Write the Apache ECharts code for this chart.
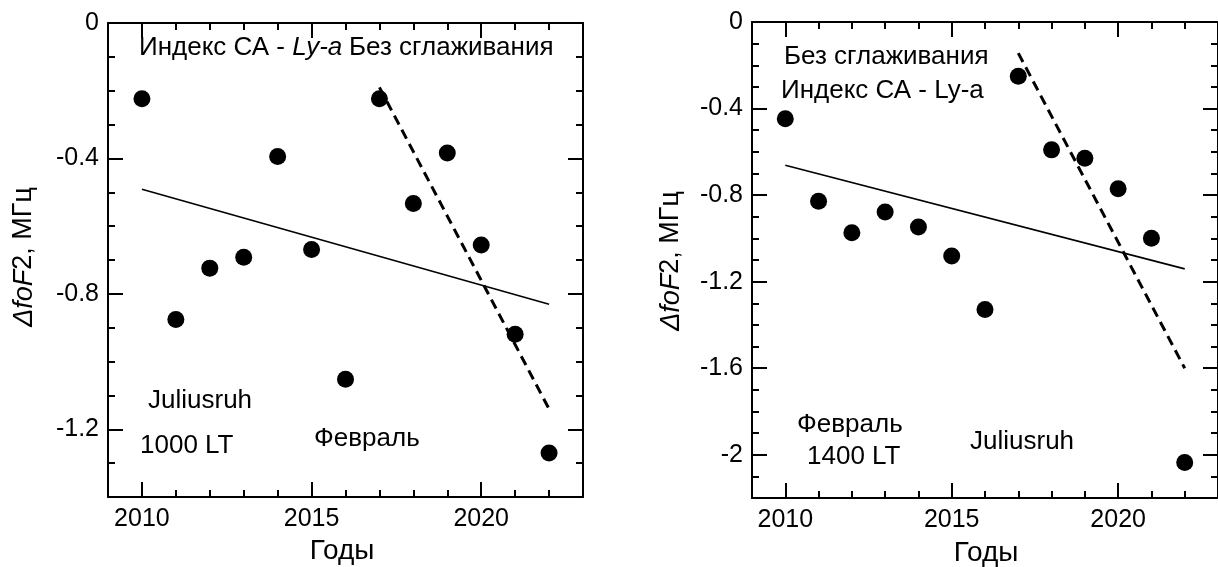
<!DOCTYPE html>
<html>
<head>
<meta charset="utf-8">
<script src="https://cdn.jsdelivr.net/npm/echarts@6/dist/echarts.min.js"></script>
<style>
  html, body { margin: 0; padding: 0; background: #fff; }
  #chart { width: 1218px; height: 567px; }
</style>
</head>
<body>
<div id="chart"></div>
<script>
// ---------- data ----------
const years = [2010, 2011, 2012, 2013, 2014, 2015, 2016, 2017, 2018, 2019, 2020, 2021, 2022];
// Left panel: Juliusruh, February, 1000 LT
const dfoF2_1000 = [-0.224, -0.876, -0.724, -0.692, -0.394, -0.669, -1.052, -0.224, -0.533, -0.384, -0.656, -0.919, -1.270];
// Right panel: Juliusruh, February, 1400 LT
const dfoF2_1400 = [-0.447, -0.828, -0.974, -0.878, -0.947, -1.081, -1.329, -0.251, -0.591, -0.630, -0.771, -0.999, -2.036];
// Linear trends (full period, solid) and since 2017 (dashed)
const trendYearsAll = [2010, 2022];
const trendAll_1000 = [-0.491, -0.831];
const trendAll_1400 = [-0.662, -1.141];
const trendYearsLate = [2017, 2022];
const trendLate_1000 = [-0.190, -1.140];
const trendLate_1400 = [-0.144, -1.600];
// Axis ticks / labels
const xMajor = [2010, 2015, 2020];
const xMinor = [2009, 2010, 2011, 2012, 2013, 2014, 2015, 2016, 2017, 2018, 2019, 2020, 2021, 2022, 2023];
const yMajorLeft = [0, -0.4, -0.8, -1.2];
const yMinorLeft = [0, -0.1, -0.2, -0.3, -0.4, -0.5, -0.6, -0.7, -0.8, -0.9, -1.0, -1.1, -1.2, -1.3, -1.4];
const yMajorRight = [0, -0.4, -0.8, -1.2, -1.6, -2];
const yMinorRight = [0, -0.1, -0.2, -0.3, -0.4, -0.5, -0.6, -0.7, -0.8, -0.9, -1.0, -1.1, -1.2, -1.3, -1.4, -1.5, -1.6, -1.7, -1.8, -1.9, -2.0, -2.1, -2.2];

// ---------- helpers ----------
const FONT = '"Liberation Sans", Arial, sans-serif';
const FS = 25;     // tick labels
const FA = 26;     // annotations
const FT = 28;     // axis titles
const LW = 2;

function xAxes(gridIndex, minorVals, majorVals) {
  const base = { type: 'value', gridIndex, min: 2009, max: 2023, splitLine: { show: false } };
  const line = { show: true, onZero: false, lineStyle: { color: '#000', width: LW } };
  const noline = { show: false, onZero: false };
  return [
    Object.assign({}, base, { position: 'bottom', axisLine: line,
      axisTick: { show: true, inside: true, length: 15, customValues: majorVals, lineStyle: { color: '#000', width: LW } },
      axisLabel: { show: true, customValues: majorVals, color: '#000', fontSize: FS, fontFamily: FONT, margin: 10,
        formatter: v => String(v) } }),
    Object.assign({}, base, { position: 'bottom', axisLine: noline,
      axisTick: { show: true, inside: true, length: 7, customValues: minorVals, lineStyle: { color: '#000', width: LW } },
      axisLabel: { show: false } }),
    Object.assign({}, base, { position: 'top', axisLine: line,
      axisTick: { show: true, inside: true, length: 15, customValues: majorVals, lineStyle: { color: '#000', width: LW } },
      axisLabel: { show: false } }),
    Object.assign({}, base, { position: 'top', axisLine: noline,
      axisTick: { show: true, inside: true, length: 7, customValues: minorVals, lineStyle: { color: '#000', width: LW } },
      axisLabel: { show: false } })
  ];
}
function yAxes(gridIndex, minV, minorVals, majorVals) {
  const base = { type: 'value', gridIndex, min: minV, max: 0, splitLine: { show: false } };
  const line = { show: true, onZero: false, lineStyle: { color: '#000', width: LW } };
  const noline = { show: false, onZero: false };
  return [
    Object.assign({}, base, { position: 'left', axisLine: line,
      axisTick: { show: true, inside: true, length: 15, customValues: majorVals, lineStyle: { color: '#000', width: LW } },
      axisLabel: { show: true, customValues: majorVals, color: '#000', fontSize: FS, fontFamily: FONT, margin: 9,
        formatter: v => (Math.abs(v) < 1e-9 ? '0' : String(Math.round(v * 10) / 10)) } }),
    Object.assign({}, base, { position: 'left', axisLine: noline,
      axisTick: { show: true, inside: true, length: 7, customValues: minorVals, lineStyle: { color: '#000', width: LW } },
      axisLabel: { show: false } }),
    Object.assign({}, base, { position: 'right', axisLine: line,
      axisTick: { show: true, inside: true, length: 15, customValues: majorVals, lineStyle: { color: '#000', width: LW } },
      axisLabel: { show: false } }),
    Object.assign({}, base, { position: 'right', axisLine: noline,
      axisTick: { show: true, inside: true, length: 7, customValues: minorVals, lineStyle: { color: '#000', width: LW } },
      axisLabel: { show: false } })
  ];
}
const zip = (xs, ys) => xs.map((x, i) => [x, ys[i]]);

function panelSeries(axisOffset, vals, allVals, lateVals) {
  return [
    { type: 'line', xAxisIndex: axisOffset, yAxisIndex: axisOffset, data: zip(trendYearsAll, allVals),
      symbol: 'none', lineStyle: { color: '#000', width: 1.6 }, silent: true, z: 2 },
    { type: 'line', xAxisIndex: axisOffset, yAxisIndex: axisOffset, data: zip(trendYearsLate, lateVals),
      symbol: 'none', lineStyle: { color: '#000', width: 3, type: [10, 6] }, silent: true, z: 2 },
    { type: 'scatter', xAxisIndex: axisOffset, yAxisIndex: axisOffset, data: zip(years, vals),
      symbol: 'circle', symbolSize: 17, itemStyle: { color: '#000', opacity: 1 }, z: 3 }
  ];
}

const txt = (x, y, text, extra, fs) => ({
  type: 'text', x, y, silent: true,
  style: Object.assign({ text, fill: '#000', font: (fs || FA) + 'px ' + FONT, align: 'left', verticalAlign: 'middle' }, extra || {})
});
const rich = {
  n: { fontSize: FA, fontFamily: FONT, color: '#000' },
  i: { fontSize: FA, fontFamily: FONT, fontStyle: 'italic', color: '#000' }
};
const richT = {
  n: { fontSize: 27, fontFamily: FONT, color: '#000' },
  i: { fontSize: 27, fontFamily: FONT, fontStyle: 'italic', color: '#000' }
};

const chart = echarts.init(document.getElementById('chart'), null, { renderer: 'canvas' });
chart.setOption({
  backgroundColor: '#fff',
  animation: false,
  grid: [
    { left: 108, top: 23, width: 475, height: 474 },
    { left: 752, top: 22, width: 473, height: 476 }
  ],
  xAxis: [].concat(xAxes(0, xMinor, xMajor), xAxes(1, xMinor, xMajor)),
  yAxis: [].concat(yAxes(0, -1.4, yMinorLeft, yMajorLeft), yAxes(1, -2.2, yMinorRight, yMajorRight)),
  series: [].concat(
    panelSeries(0, dfoF2_1000, trendAll_1000, trendLate_1000),
    panelSeries(4, dfoF2_1400, trendAll_1400, trendLate_1400)
  ),
  graphic: [
    // left panel annotations
    { type: 'text', x: 139, y: 48, silent: true,
      style: { text: '{n|Индекс СА - }{i|Ly-a}', rich, align: 'left', verticalAlign: 'middle' } },
    txt(349, 48, 'Без сглаживания'),
    txt(148, 401, 'Juliusruh'),
    txt(140, 446, '1000 LT'),
    txt(314, 439, 'Февраль'),
    // right panel annotations
    txt(784, 57, 'Без сглаживания'),
    txt(781, 91, 'Индекс СА - Ly-a'),
    txt(797, 425, 'Февраль'),
    txt(807, 457, '1400 LT'),
    txt(970, 442, 'Juliusruh'),
    // axis titles
    txt(342, 551, 'Годы', { align: 'center' }, FT),
    txt(986, 553, 'Годы', { align: 'center' }, FT),
    { type: 'text', x: 24, y: 257, rotation: Math.PI / 2, silent: true,
      style: { text: '{i|ΔfoF}{n|2, МГц}', rich: richT, align: 'center', verticalAlign: 'middle' } },
    { type: 'text', x: 671, y: 261, rotation: Math.PI / 2, silent: true,
      style: { text: '{i|ΔfoF}{n|2, МГц}', rich: richT, align: 'center', verticalAlign: 'middle' } }
  ]
});
</script>
</body>
</html>
